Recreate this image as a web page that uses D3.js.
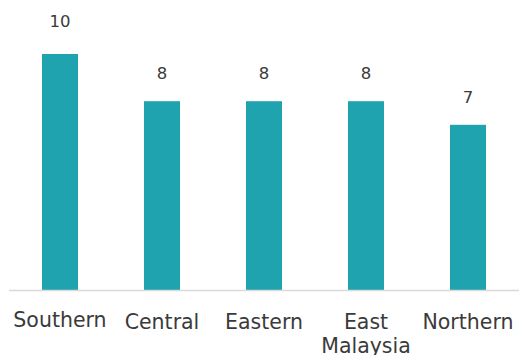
<!DOCTYPE html>
<html><head><meta charset="utf-8">
<script src="https://cdn.jsdelivr.net/npm/d3@7"></script>
<style>
html,body{margin:0;padding:0;background:#fff;}
svg{display:block;}
text{font-family:"DejaVu Sans",sans-serif;fill:#3a3a3a;}
</style></head>
<body>
<script>
const categories = ["Southern","Central","Eastern","East Malaysia","Northern"];
const values = [10, 8, 8, 8, 7];
const labelLines = [["Southern"],["Central"],["Eastern"],["East","Malaysia"],["Northern"]];

const W = 521, H = 355;
const svg = d3.select("body").append("svg").attr("width", W).attr("height", H);

const x = d3.scaleBand().domain(categories).range([9, 519]).paddingInner(0.647).paddingOuter(0.3235);
const y = d3.scaleLinear().domain([0, 10]).range([290, 54]);

svg.selectAll("rect.bar").data(categories).join("rect")
  .attr("class","bar")
  .attr("x", d => x(d))
  .attr("width", x.bandwidth())
  .attr("y", (d,i) => y(values[i]))
  .attr("height", (d,i) => y(0) - y(values[i]))
  .attr("fill", "#1fa3ae");

svg.append("line")
  .attr("x1", 9).attr("x2", 519)
  .attr("y1", 290.5).attr("y2", 290.5)
  .attr("stroke", "#d9d9d9").attr("stroke-width", 1.5);

svg.selectAll("text.val").data(categories).join("text")
  .attr("class","val")
  .attr("x", d => x(d) + x.bandwidth()/2)
  .attr("y", (d,i) => y(values[i]) - (i === 0 ? 27 : 22))
  .attr("text-anchor","middle")
  .attr("font-size", 16.5)
  .text((d,i) => values[i]);

const lab = svg.selectAll("text.cat").data(categories).join("text")
  .attr("class","cat")
  .attr("x", d => x(d) + x.bandwidth()/2)
  .attr("y", (d,i) => i === 0 ? 327 : 329)
  .attr("text-anchor","middle")
  .attr("font-size", 20.5);
lab.each(function(d,i){
  d3.select(this).selectAll("tspan").data(labelLines[i]).join("tspan")
    .attr("x", x(d) + x.bandwidth()/2)
    .attr("dy", (t,j) => j === 0 ? 0 : 24)
    .text(t => t);
});
</script>
</body></html>
